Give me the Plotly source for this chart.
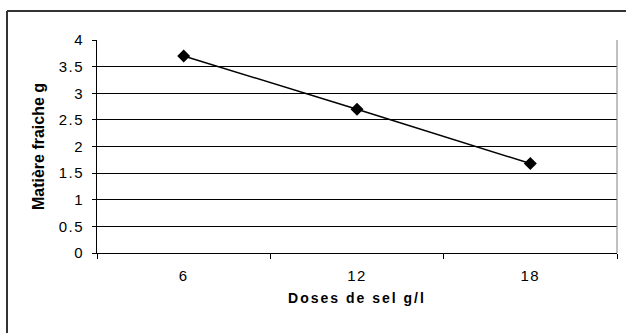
import plotly.graph_objects as go

# Salt dose (g/l) and fresh matter (g)
doses = ["6", "12", "18"]
fresh_matter = [3.7, 2.7, 1.68]
y_ticks = [0, 0.5, 1, 1.5, 2, 2.5, 3, 3.5, 4]
y_tick_labels = ["0", "0.5", "1", "1.5", "2", "2.5", "3", "3.5", "4"]

FONT = "Liberation Sans, Arial, sans-serif"

# plot area in pixels: x 97..617, y 40..253
L, R, T, B = 97, 617, 40, 253
W, H = 626, 333


def px_x(p):
    return (p - L) / (R - L)


def px_y(p):
    return (B - p) / (B - T)


def spaced(text, px):
    return f'<span style="letter-spacing:{px}px">{text}</span>'


fig = go.Figure()
fig.add_trace(go.Scatter(
    x=doses, y=fresh_matter,
    mode="lines+markers",
    line=dict(color="black", width=1.5),
    marker=dict(symbol="diamond", size=10, color="black"),
    showlegend=False,
))

fig.update_layout(
    width=W, height=H,
    margin=dict(l=L, r=W - R, t=T, b=H - B),
    paper_bgcolor="white", plot_bgcolor="white",
    font=dict(family=FONT, color="black"),
    xaxis=dict(
        type="category", range=[-0.5, 2.5],
        tickson="boundaries", ticks="outside", ticklen=5, tickcolor="black",
        tickvals=doses, ticktext=[spaced(d, 1.5) for d in doses],
        showgrid=False, showline=True, linecolor="black", linewidth=1,
        tickfont=dict(size=15), ticklabelstandoff=9,
        title=dict(text=spaced("Doses de sel g/l", 2),
                   font=dict(size=14, weight="bold"), standoff=10),
    ),
    yaxis=dict(
        range=[0, 4], tickvals=y_ticks,
        ticktext=[spaced(t, 1.5) for t in y_tick_labels],
        ticks="outside", ticklen=4, tickcolor="black",
        showgrid=True, gridcolor="black", gridwidth=1,
        showline=True, linecolor="black", linewidth=1, zeroline=False,
        tickfont=dict(size=15), ticklabelstandoff=5,
        title=dict(text="Matière fraiche g", font=dict(size=16, weight="bold"),
                   standoff=10),
    ),
    shapes=[
        # right edge of the plot area
        dict(type="line", xref="paper", yref="paper", x0=1, x1=1, y0=0, y1=1,
             line=dict(color="#808080", width=1)),
        # outer chart frame (left and top sides)
        dict(type="line", xref="paper", yref="paper",
             x0=px_x(7), x1=px_x(7), y0=px_y(11), y1=px_y(345),
             line=dict(color="#333333", width=2)),
        dict(type="line", xref="paper", yref="paper",
             x0=px_x(7), x1=px_x(640), y0=px_y(11), y1=px_y(11),
             line=dict(color="#333333", width=2)),
    ],
)

fig.write_html("out.html")
